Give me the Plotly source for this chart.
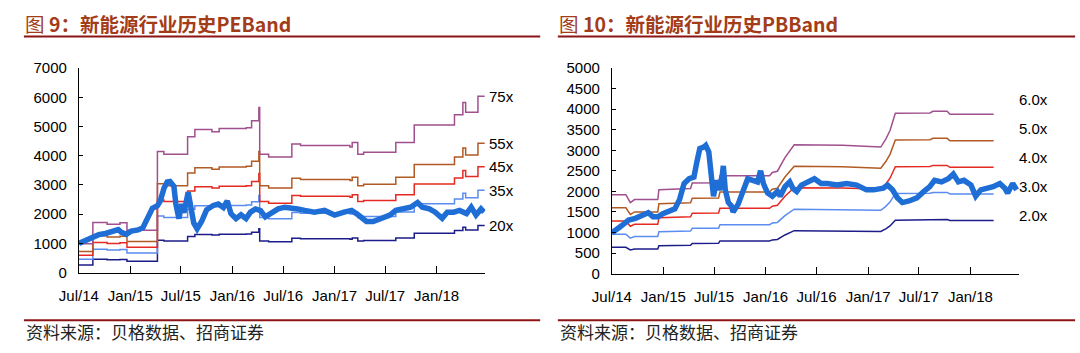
import plotly.graph_objects as go

# ---------------- Figure 9: PE Band ----------------
pe_dates = ["2014-07-01","2014-07-25","2014-08-22","2014-09-10","2014-10-04","2014-10-25","2014-11-19","2014-11-30",
            "2014-12-17","2015-01-04","2015-01-29","2015-02-15","2015-02-26","2015-03-10","2015-03-21","2015-04-08",
            "2015-04-18","2015-05-02","2015-05-13","2015-05-23","2015-06-06","2015-06-13","2015-06-24","2015-07-04",
            "2015-07-12","2015-07-27","2015-08-05","2015-08-16","2015-08-28","2015-09-13","2015-10-01","2015-10-25",
            "2015-11-12","2015-11-30","2015-12-14","2015-12-27","2016-01-14","2016-02-01","2016-02-19","2016-03-06",
            "2016-03-24","2016-04-11","2016-04-28","2016-05-22","2016-06-13","2016-07-07","2016-08-01","2016-08-22",
            "2016-09-16","2016-10-21","2016-11-26","2017-01-01","2017-02-04","2017-03-03","2017-03-27","2017-04-25",
            "2017-05-19","2017-06-24","2017-07-18","2017-08-08","2017-09-02","2017-09-30","2017-10-25","2017-11-11",
            "2017-12-06","2017-12-27","2018-01-21","2018-02-08","2018-03-03","2018-03-24","2018-04-18","2018-05-05",
            "2018-05-22","2018-06-09","2018-06-20"]
pe_index = [1000,1100,1260,1300,1340,1420,1470,1380,
            1310,1420,1460,1540,1750,2000,2200,2290,
            2450,2900,3100,3120,2950,2350,1850,2350,
            2050,2750,2150,1700,1500,1750,2150,2300,
            2350,2230,2450,2020,1850,1980,1850,2070,
            2180,2120,1910,2070,2180,2240,2230,2180,
            2130,2070,2130,1970,2070,2130,1970,1750,
            1750,1860,1970,2130,2180,2240,2400,2240,
            2180,2070,1860,2070,2070,2130,2020,2240,
            1970,2180,2070]

pe_band_dates = ["2014-07-01","2014-08-20","2014-10-10","2014-11-25","2014-12-20","2015-04-08","2015-05-01",
                 "2015-07-25","2015-08-20","2015-10-20","2015-11-15","2016-02-20","2016-03-10","2016-04-05",
                 "2016-04-08","2016-05-10","2016-08-01","2016-09-01","2017-02-25","2017-03-05","2017-03-25",
                 "2017-04-15","2017-08-08","2017-10-13","2018-03-06","2018-04-05","2018-04-15","2018-05-29",
                 "2018-06-22"]
pe_20x = [264,458,442,454,386,1106,1080,1240,1306,1286,1314,1322,1386,1506,1080,1054,1174,1160,1146,1186,1080,
          1098,1186,1346,1440,1552,1462,1610,1610]
pe_35x = [462,802,774,795,676,1936,1890,2170,2286,2251,2300,2314,2426,2636,1890,1845,2055,2030,2006,2076,1890,
          1922,2076,2356,2520,2716,2559,2818,2818]
pe_45x = [594,1031,995,1022,869,2489,2430,2790,2939,2894,2957,2975,3119,3389,2430,2372,2642,2610,2579,2669,2430,
          2471,2669,3029,3240,3492,3290,3623,3623]
pe_55x = [726,1260,1216,1249,1062,3042,2970,3410,3592,3537,3614,3636,3812,4142,2970,2899,3229,3190,3152,3262,2970,
          3020,3262,3702,3960,4268,4021,4428,4428]
pe_75x = [990,1718,1658,1703,1448,4148,4050,4650,4898,4823,4928,4958,5198,5648,4050,3953,4403,4350,4298,4448,4050,
          4118,4448,5048,5400,5820,5483,6038,6038]
pe_labels = ["20x","35x","45x","55x","75x"]

# ---------------- Figure 10: PB Band ----------------
pb_dates = ["2014-07-01","2014-07-08","2014-07-25","2014-08-12","2014-08-30","2014-09-23","2014-10-14","2014-11-08",
            "2014-11-25","2014-12-13","2014-12-30","2015-01-17","2015-02-11","2015-02-28","2015-03-16","2015-04-03",
            "2015-04-20","2015-05-01","2015-05-11","2015-05-25","2015-06-01","2015-06-12","2015-06-22","2015-06-29",
            "2015-07-09","2015-07-20","2015-07-27","2015-08-03","2015-08-10","2015-08-21","2015-08-31","2015-09-07",
            "2015-09-25","2015-10-12","2015-10-29","2015-11-16","2015-12-03","2015-12-14","2015-12-24","2016-01-08",
            "2016-01-25","2016-02-12","2016-02-22","2016-03-10","2016-03-27","2016-04-07","2016-04-21","2016-05-08",
            "2016-05-29","2016-06-23","2016-07-17","2016-08-08","2016-09-12","2016-10-16","2016-11-21","2016-12-26",
            "2017-01-20","2017-02-24","2017-03-11","2017-03-29","2017-04-15","2017-05-03","2017-05-27","2017-06-24",
            "2017-07-19","2017-08-09","2017-08-26","2017-09-20","2017-10-14","2017-11-01","2017-11-19","2017-12-09",
            "2018-01-03","2018-01-20","2018-02-07","2018-03-02","2018-03-23","2018-04-16","2018-05-04","2018-05-14",
            "2018-06-01","2018-06-15"]
pb_index = [990,1034,1111,1204,1304,1343,1420,1481,
            1381,1381,1458,1497,1574,1806,2191,2307,
            2346,2731,3040,3078,3117,2963,2346,1883,
            2268,2037,2191,2620,2037,1728,1651,1497,
            1690,1960,2307,2268,2230,2500,2191,1960,
            1883,1998,1883,2114,2230,2076,1998,2153,
            2230,2307,2191,2191,2153,2191,2153,2037,
            2037,2076,2153,2037,1844,1728,1767,1844,
            1998,2114,2268,2230,2307,2423,2230,2268,
            2153,1883,2037,2076,2114,2191,2076,1960,
            2191,2037]

pb_band_dates = ["2014-07-01","2014-08-20","2014-09-05","2014-09-20","2014-12-12","2014-12-16","2015-04-08",
                 "2015-04-14","2015-07-17","2015-07-22","2016-01-15","2016-01-25","2016-02-12","2016-03-10",
                 "2016-04-12","2016-10-01","2017-02-15","2017-03-05","2017-03-20","2017-04-08","2017-08-10",
                 "2017-08-20","2017-10-10","2017-10-20","2018-03-25"]
pb_2x = [640,640,576,600,600,680,690,734,736,794,794,820,830,940,1044,1040,1026,1090,1160,1300,1302,1316,1316,1292,1292]
pb_3x = [960,960,864,900,900,1020,1035,1101,1104,1191,1191,1230,1245,1410,1566,1560,1539,1635,1740,1950,1953,1974,1974,1938,1938]
pb_4x = [1280,1280,1152,1200,1200,1360,1380,1468,1472,1588,1588,1640,1660,1880,2088,2080,2052,2180,2320,2600,2604,2632,2632,2584,2584]
pb_5x = [1600,1600,1440,1500,1500,1700,1725,1835,1840,1985,1985,2050,2075,2350,2610,2600,2565,2725,2900,3250,3255,3290,3290,3230,3230]
pb_6x = [1920,1920,1728,1800,1800,2040,2070,2202,2208,2382,2382,2460,2490,2820,3132,3120,3078,3270,3480,3900,3906,3948,3948,3876,3876]
pb_labels = ["6.0x","5.0x","4.0x","3.0x","2.0x"]

# ---------------- shared axis text ----------------
tick_dates = ["2014-07-01","2015-01-01","2015-07-01","2016-01-01","2016-07-01","2017-01-01","2017-07-01","2018-01-01"]
tick_text = ["Jul/14","Jan/15","Jul/15","Jan/16","Jul/16","Jan/17","Jul/17","Jan/18"]
x_end = "2018-06-24"

band_colors = ["#1c1c8a", "#5b8cf0", "#e42a22", "#b25a24", "#a0508e"]  # low -> high multiple
index_color = "#1f6ed6"
title_color = "#a33c18"
rule_color = "#8c1414"
num_font = "Liberation Sans, Arial, sans-serif"
cjk_font = "Noto Sans CJK SC, sans-serif"

fig = go.Figure()

pe_bands = [pe_20x, pe_35x, pe_45x, pe_55x, pe_75x]
for vals, col in zip(pe_bands, band_colors):
    fig.add_trace(go.Scatter(x=pe_band_dates, y=vals, mode="lines", line=dict(color=col, width=1.5, shape="hv"),
                             xaxis="x", yaxis="y", hoverinfo="skip"))
fig.add_trace(go.Scatter(x=pe_dates, y=pe_index, mode="lines", line=dict(color=index_color, width=5.5),
                         xaxis="x", yaxis="y"))

pb_bands = [pb_2x, pb_3x, pb_4x, pb_5x, pb_6x]
for vals, col in zip(pb_bands, band_colors):
    fig.add_trace(go.Scatter(x=pb_band_dates, y=vals, mode="lines", line=dict(color=col, width=1.5),
                             xaxis="x2", yaxis="y2", hoverinfo="skip"))
fig.add_trace(go.Scatter(x=pb_dates, y=pb_index, mode="lines", line=dict(color=index_color, width=5.5),
                         xaxis="x2", yaxis="y2"))

W, H = 1080, 353
def px(xp): return xp / W
def py(yp): return 1 - yp / H

axis_common = dict(showline=True, linecolor="black", linewidth=1, showgrid=False, zeroline=False,
                   ticks="inside", tickcolor="black", tickfont=dict(family=num_font, size=15, color="black"))

fig.update_layout(
    width=W, height=H, margin=dict(l=0, r=0, t=0, b=0),
    paper_bgcolor="white", plot_bgcolor="white", showlegend=False,
    xaxis=dict(domain=[px(60), px(474)], type="date", range=["2014-07-01", x_end],
               tickvals=tick_dates, ticktext=tick_text, ticklen=7, anchor="y", ticklabelstandoff=9, **axis_common),
    yaxis=dict(domain=[py(277), py(62)], range=[0, 7000], dtick=1000, ticklen=4, anchor="x",
               ticklabelstandoff=8, **axis_common),
    xaxis2=dict(domain=[px(603), px(1018)], type="date", range=["2014-07-01", x_end],
                tickvals=tick_dates, ticktext=tick_text, ticklen=7, anchor="y2", ticklabelstandoff=9, **axis_common),
    yaxis2=dict(domain=[py(278), py(62)], range=[0, 5000], dtick=500, ticklen=4, anchor="x2",
                ticklabelstandoff=8, **axis_common),
)

annotations = []
# PE band labels at band ends
for vals, lab in zip(pe_bands, pe_labels):
    annotations.append(dict(x=x_end, y=vals[-1], xref="x", yref="y", text=lab, showarrow=False,
                            xanchor="left", xshift=2, font=dict(family=num_font, size=15, color="black")))
# PB labels stacked at right
pb_label_y = [4240, 3540, 2820, 2110, 1410]
for lab, yv in zip(pb_labels, pb_label_y):
    annotations.append(dict(x=x_end, y=yv, xref="x2", yref="y2", text=lab, showarrow=False,
                            xanchor="left", xshift=-2, font=dict(family=num_font, size=15, color="black")))
# Titles
annotations.append(dict(x=px(3), y=py(15), xref="paper", yref="paper", xanchor="left", yanchor="middle",
                        text="图 <b>9：新能源行业历史PEBand</b>", showarrow=False,
                        font=dict(family=cjk_font, size=19.5, color=title_color)))
annotations.append(dict(x=px(547), y=py(15), xref="paper", yref="paper", xanchor="left", yanchor="middle",
                        text="图 <b>10：新能源行业历史PBBand</b>", showarrow=False,
                        font=dict(family=cjk_font, size=19.5, color=title_color)))
# Sources
for x0 in (4, 548):
    annotations.append(dict(x=px(x0), y=py(339), xref="paper", yref="paper", xanchor="left", yanchor="middle",
                            text="资料来源：贝格数据、招商证券", showarrow=False,
                            font=dict(family=cjk_font, size=17, color="#222222")))
fig.update_layout(annotations=annotations)

shapes = []
for x0, x1 in ((4, 530), (548, 1075)):
    shapes.append(dict(type="line", xref="paper", yref="paper", x0=px(x0), x1=px(x1), y0=py(29), y1=py(29),
                       line=dict(color=rule_color, width=2)))
    shapes.append(dict(type="line", xref="paper", yref="paper", x0=px(x0), x1=px(x1), y0=py(327), y1=py(327),
                       line=dict(color=rule_color, width=2)))
fig.update_layout(shapes=shapes)

fig.write_html("out.html")
